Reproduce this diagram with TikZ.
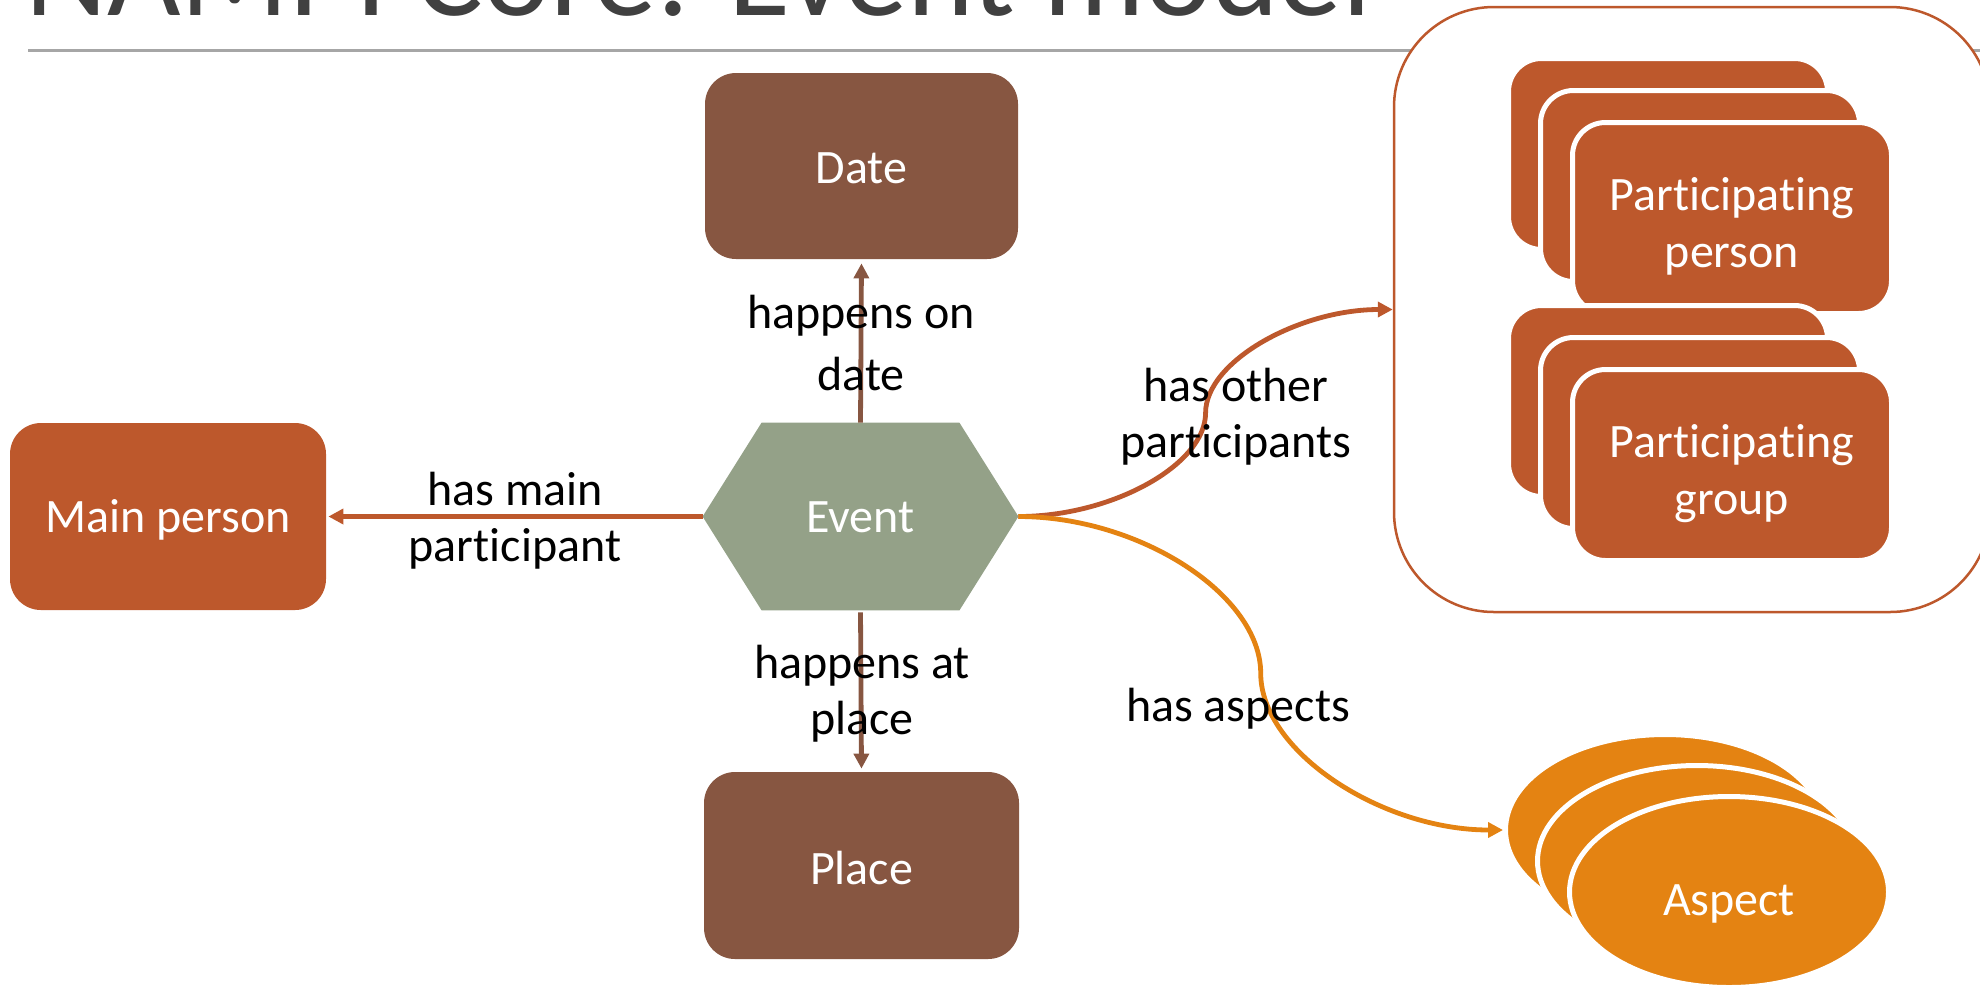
\documentclass[tikz,border=0pt]{standalone}
\usepackage{fontspec}
\setmainfont{Carlito}[Ligatures=NoCommon]
\usetikzlibrary{shapes.geometric,arrows.meta,calc,backgrounds}
\definecolor{rust}{RGB}{189,88,44}
\definecolor{brownbox}{RGB}{135,86,65}
\definecolor{sage}{RGB}{148,161,136}
\definecolor{orangeasp}{RGB}{228,131,18}
\definecolor{rulegray}{RGB}{166,166,166}
\definecolor{titlegray}{RGB}{64,64,64}
\newcommand{\lowertext}[2]{\raisebox{-#1}[\height][\depth]{#2}}
\begin{document}
\begin{tikzpicture}[x=0.5pt,y=-0.5pt,
  lbl/.style={font=\fontsize{24}{28}\selectfont, text=black, align=center, inner sep=0pt},
  box/.style={rectangle, rounded corners=15.5pt, text=white, align=center,
    font=\fontsize{24}{28.5}\selectfont, minimum width=157pt, minimum height=93pt, inner sep=0pt},
  stackbox/.style={box, fill=rust, draw=white, line width=2.5pt,
    minimum width=159.5pt, minimum height=95.5pt, rounded corners=16.5pt},
  aspectnode/.style={ellipse, fill=orangeasp, draw=white, line width=2.5pt,
    minimum width=159.5pt, minimum height=95.5pt, inner sep=0pt, text=white,
    font=\fontsize{24}{28.5}\selectfont},
  conn/.style={line width=2.4pt, -{Triangle[length=7.5pt,width=7.5pt]}},
]
\useasboundingbox (0,0) rectangle (1980,987);
\clip (0,0) rectangle (1980,987);

% title (cut off at top) and rule
\node[anchor=base west, font=\fontsize{63.5}{70}\selectfont, text=titlegray, inner sep=0pt]
  (title) at (25,15) {NAMPI Core: Event model};
\draw[rulegray, line width=1.25pt] (28,50.5) -- (1980,50.5);

% container
\node[draw=rust, fill=white, line width=1.25pt, rounded corners=50pt,
  minimum width=298pt, minimum height=302.5pt, inner sep=0pt] (big) at (1692,309.5) {};

% participating person stack
\node[stackbox] (pp1) at (1668,154) {};
\node[stackbox] (pp2) at (1700,186) {};
\node[stackbox] (pp3) at (1732,218) {\rule{0pt}{25pt}Participating\\person};
% participating group stack
\node[stackbox] (pg1) at (1668,401) {};
\node[stackbox] (pg2) at (1700,433) {};
\node[stackbox] (pg3) at (1732,465) {\rule{0pt}{25pt}Participating\\group};

% aspects
\node[aspectnode] (asp1) at (1665,830) {};
\node[aspectnode] (asp2) at (1697,861) {};
\node[aspectnode] (asp3) at (1729,892) {\lowertext{6pt}{Aspect}};

% main nodes
\node[box, fill=brownbox, minimum width=156.5pt, minimum height=93pt] (date) at (861.5,166) {\lowertext{1.2pt}{Date}};
\node[box, fill=brownbox, minimum width=157.5pt, minimum height=93.5pt] (place) at (861.5,865.5) {\lowertext{1.2pt}{Place}};
\node[box, fill=rust, minimum width=158pt, minimum height=93.5pt] (main) at (168,516.5) {\lowertext{1.8pt}{Main person}};

% event hexagon
\node[minimum width=157.5pt, minimum height=93.5pt, inner sep=0pt, text=white,
  font=\fontsize{24}{28.5}\selectfont] (ev) at (860.5,516.5) {\lowertext{0.6pt}{Event}};
\begin{scope}[on background layer]
\fill[sage] (ev.west) -- ([xshift=29.5pt]ev.north west) -- ([xshift=-29.5pt]ev.north east)
  -- (ev.east) -- ([xshift=-29.5pt]ev.south east) -- ([xshift=29.5pt]ev.south west) -- cycle;
\end{scope}

% straight connectors
\draw[conn, rust, shorten >=1pt] (ev.west) -- (main.east);
\draw[conn, brownbox, shorten >=2pt] (ev.north) -- (date.south);
\draw[conn, brownbox, shorten >=1.5pt, shorten <=1pt] (ev.south) -- (place.north);

% curved connector to participants
\coordinate (pm) at ($(ev.east)!0.5!(big.west)$);
\coordinate (pq1) at ($(ev.east)!0.5!(pm)$);
\coordinate (pq2) at ($(pm)!0.5!(big.west)$);
\draw[conn, rust] (ev.east) .. controls (pq1 |- ev.east) and (pm |- pq1) .. (pm)
  .. controls (pm |- pq2) and (pq2 |- big.west) .. (big.west);

% curved connector to aspects
\coordinate (am) at ($(ev.east)!0.5!(asp1.west)$);
\coordinate (aq1) at ($(ev.east)!0.5!(am)$);
\coordinate (aq2) at ($(am)!0.5!(asp1.west)$);
\draw[conn, orangeasp] (ev.east) .. controls (aq1 |- ev.east) and (am |- aq1) .. (am)
  .. controls (am |- aq2) and (aq2 |- asp1.west) .. (asp1.west);

% labels
\node[lbl] (l1) at (515,521) {has main\\participant};
\node[lbl, font=\fontsize{24}{31.2}\selectfont] (l2) at (861,343) {happens on\\date};
\node[lbl] (l3) at (862,694) {happens at\\place};
\node[lbl] (l4) at (1236,417) {has other\\participants};
\node[lbl] (l5) at (1238,709) {has aspects};
\end{tikzpicture}
\end{document}
